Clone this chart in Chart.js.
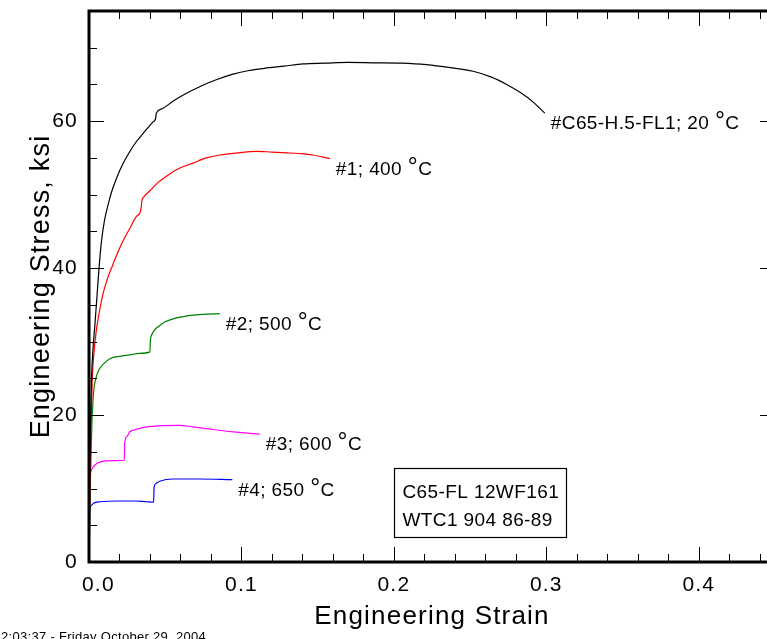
<!DOCTYPE html>
<html>
<head>
<meta charset="utf-8">
<script src="https://cdn.jsdelivr.net/npm/chart.js@4.4.1/dist/chart.umd.min.js"></script>
<style>
html,body{margin:0;padding:0;overflow:hidden;background:#fff;width:767px;height:639px}
#wrap{position:relative;width:800px;height:639px}
canvas{display:block}
</style>
</head>
<body>
<div id="wrap"><canvas id="c" width="800" height="639"></canvas></div>
<script>
// ---------- data ----------
const xTickValues = [0, 0.1, 0.2, 0.3, 0.4];
const xTickLabels = ['0.0', '0.1', '0.2', '0.3', '0.4'];
const yTickValues = [0, 20, 40, 60];
const yTickLabels = ['0', '20', '40', '60'];
const xMinorTicks = [0.02,0.04,0.06,0.08,0.12,0.14,0.16,0.18,0.22,0.24,0.26,0.28,0.32,0.34,0.36,0.38,0.42,0.44];
const yMinorTicks = [5,10,15,25,30,35,45,50,55,65,70];

const xTitle = 'Engineering Strain';
const yTitle = 'Engineering Stress, ksi';

const seriesLabels = ['#C65-H.5-FL1; 20 °C', '#1; 400 °C', '#2; 500 °C', '#3; 600 °C', '#4; 650 °C'];
const seriesColors = ['#000000', '#ff0000', '#008000', '#ff00ff', '#0000ff'];

const strain20 = [0,0.0004,0.0009,0.0016,0.0026,0.0037,0.0050,0.0065,0.0081,0.0100,0.0125,0.0147,0.0180,0.0220,0.0260,0.0310,0.0354,0.0390,0.0420,0.0436,0.0442,0.0480,0.0550,0.0630,0.0726,0.0830,0.0945,0.1050,0.1150,0.1280,0.1404,0.1550,0.1700,0.1864,0.2050,0.2214,0.2370,0.2520,0.2640,0.2740,0.2830,0.2914,0.2990];
const stress20 = [0,10,18,24.7,29.0,31.8,35.5,39.8,43.5,46.3,48.6,50.3,52.2,54.1,55.6,57.2,58.3,59.2,59.9,60.3,61.1,61.7,62.7,63.7,64.7,65.6,66.4,66.9,67.2,67.5,67.8,67.9,68.0,67.95,67.9,67.7,67.3,66.8,66.0,65.0,63.9,62.6,61.1];

const strain400 = [0,0.0005,0.0010,0.0016,0.0022,0.0035,0.0048,0.0070,0.0092,0.0120,0.0157,0.0190,0.0223,0.0270,0.0310,0.0340,0.0347,0.0360,0.0398,0.0450,0.0508,0.0573,0.0682,0.0770,0.0858,0.0980,0.1098,0.1200,0.1295,0.1380,0.1470,0.1580];
const stress400 = [0,8,15,21,25.2,29.0,31.5,34.3,36.5,38.5,40.5,42.2,43.7,45.5,47.0,47.9,49.2,49.7,50.5,51.6,52.5,53.4,54.3,55.0,55.4,55.7,55.9,55.8,55.7,55.6,55.4,54.9];

const strain500 = [0,0.0008,0.0015,0.0020,0.0031,0.0045,0.0064,0.0092,0.0140,0.0200,0.0267,0.0330,0.0400,0.0402,0.0409,0.0430,0.0464,0.0500,0.0551,0.0620,0.0682,0.0770,0.0858];
const stress500 = [0,10,16,19.3,23.3,25.0,26.1,26.9,27.7,28.0,28.2,28.4,28.6,30.0,30.8,31.6,32.2,32.7,33.1,33.4,33.6,33.75,33.8];

const strain600 = [0,0.0003,0.0005,0.0010,0.0026,0.0050,0.0070,0.0157,0.0232,0.0234,0.0250,0.0267,0.0300,0.0377,0.0480,0.0595,0.0680,0.0770,0.0945,0.1040,0.1120];
const stress600 = [0,6,11.1,12.2,12.9,13.4,13.6,13.8,13.85,16.2,17.1,17.7,18.0,18.4,18.55,18.6,18.4,18.15,17.7,17.55,17.4];

const strain650 = [0,0.0003,0.0005,0.0015,0.0030,0.0070,0.0201,0.0300,0.0377,0.0424,0.0427,0.0440,0.0464,0.0551,0.0726,0.0940];
const stress650 = [0,4,7.1,7.7,8.0,8.2,8.3,8.3,8.2,8.15,10.2,10.7,11.0,11.3,11.3,11.2];

const boxLines = ['C65-FL 12WF161', 'WTC1 904 86-89'];
const timestamp = '2:03:37 - Friday October 29, 2004';

// ---------- layout / style ----------
const FONT = '"Liberation Sans", Arial, Helvetica, sans-serif';
const boxRange = {x0: 0.2, x1: 0.313, yTop: 12.8, yBottom: 3.4};
const labelOffset = {dx: 6, dy: 16};

const strains = [strain20, strain400, strain500, strain600, strain650];
const stresses = [stress20, stress400, stress500, stress600, stress650];

const datasets = strains.map((xs, k) => ({
  label: seriesLabels[k],
  data: xs.map((x, i) => ({x: x, y: stresses[k][i]})),
  borderColor: seriesColors[k],
  backgroundColor: seriesColors[k],
  borderWidth: 1.2,
  pointRadius: 0,
  showLine: true,
  cubicInterpolationMode: 'monotone',
  fill: false
}));

Chart.defaults.color = '#000';
Chart.defaults.font.family = FONT;

function drawDegText(ctx, text, x, y, size) {
  const parts = text.split('°');
  ctx.font = size + 'px ' + FONT;
  ctx.fillText(parts[0], x, y);
  x += ctx.measureText(parts[0]).width;
  if (parts.length > 1) {
    ctx.font = Math.round(size * 1.3) + 'px ' + FONT;
    ctx.fillText('°', x, y);
    x += ctx.measureText('°').width;
    ctx.font = size + 'px ' + FONT;
    ctx.fillText(parts[1], x, y);
  }
}

const framePlugin = {
  id: 'frame',
  beforeLayout(chart) { chart.ctx.letterSpacing = '1.2px'; },
  beforeDraw(chart) { chart.ctx.letterSpacing = '1.2px'; },
  afterDatasetsDraw(chart) {
    const ctx = chart.ctx, a = chart.chartArea;
    const xs = chart.scales.x, ys = chart.scales.y;
    ctx.save();
    ctx.strokeStyle = '#000';
    ctx.lineWidth = 1;
    const MAJ = 15, MIN = 8;
    ctx.beginPath();
    const xt = (v, len) => {
      const p = Math.round(xs.getPixelForValue(v)) + 0.5;
      ctx.moveTo(p, a.bottom); ctx.lineTo(p, a.bottom - len);
      ctx.moveTo(p, a.top); ctx.lineTo(p, a.top + len);
    };
    const yt = (v, len) => {
      const p = Math.round(ys.getPixelForValue(v)) + 0.5;
      ctx.moveTo(a.left, p); ctx.lineTo(a.left + len, p);
      ctx.moveTo(a.right, p); ctx.lineTo(a.right - len, p);
    };
    xTickValues.filter(v => v > 0).forEach(v => xt(v, MAJ));
    xMinorTicks.forEach(v => xt(v, MIN));
    yTickValues.filter(v => v > 0).forEach(v => yt(v, MAJ));
    yMinorTicks.forEach(v => yt(v, MIN));
    ctx.stroke();
    ctx.lineWidth = 3;
    ctx.strokeRect(a.left, a.top, a.right - a.left, a.bottom - a.top);
    ctx.restore();
  },
  afterDraw(chart) {
    const ctx = chart.ctx;
    const xs = chart.scales.x, ys = chart.scales.y;
    ctx.save();
    ctx.letterSpacing = '0.4px';
    ctx.fillStyle = '#000';
    ctx.textBaseline = 'alphabetic';
    ctx.textAlign = 'left';
    strains.forEach((sx, k) => {
      const sy = stresses[k];
      const px = xs.getPixelForValue(sx[sx.length - 1]) + labelOffset.dx;
      const py = ys.getPixelForValue(sy[sy.length - 1]) + labelOffset.dy;
      drawDegText(ctx, seriesLabels[k], px, py, 19);
    });
    const bx0 = Math.round(xs.getPixelForValue(boxRange.x0)) + 0.5;
    const bx1 = Math.round(xs.getPixelForValue(boxRange.x1)) + 0.5;
    const by0 = Math.round(ys.getPixelForValue(boxRange.yTop)) + 0.5;
    const by1 = Math.round(ys.getPixelForValue(boxRange.yBottom)) + 0.5;
    ctx.strokeStyle = '#000';
    ctx.lineWidth = 1.2;
    ctx.strokeRect(bx0, by0, bx1 - bx0, by1 - by0);
    ctx.font = '19px ' + FONT;
    ctx.fillText(boxLines[0], bx0 + 8, by0 + 29);
    ctx.fillText(boxLines[1], bx0 + 8, by0 + 57);
    ctx.letterSpacing = '0.3px';
    ctx.font = '13px ' + FONT;
    ctx.fillText(timestamp, 1, 641);
    ctx.restore();
  }
};

new Chart(document.getElementById('c'), {
  type: 'scatter',
  data: {datasets: datasets},
  plugins: [framePlugin],
  options: {
    responsive: false,
    animation: false,
    events: [],
    layout: {padding: {left: 0, right: 25, top: 11, bottom: 0}},
    plugins: {legend: {display: false}, tooltip: {enabled: false}},
    scales: {
      x: {
        type: 'linear',
        min: 0,
        max: 0.45,
        grid: {display: false, drawTicks: false, tickLength: 0},
        border: {display: false},
        afterBuildTicks: s => { s.ticks = xTickValues.map(v => ({value: v})); },
        afterFit: s => { s.height = 77; s.paddingLeft = 0; s.paddingRight = 0; },
        ticks: {
          autoSkip: false, maxRotation: 0, minRotation: 0, padding: 11,
          color: '#000', font: {size: 21, family: FONT},
          callback: (v, i) => (i === 0 ? '\u2002 ' : '') + xTickLabels[i]
        },
        title: {display: true, text: xTitle, color: '#000', font: {size: 26, family: FONT}, padding: {top: 0, bottom: 7}}
      },
      y: {
        type: 'linear',
        min: 0,
        max: 75,
        grid: {display: false, drawTicks: false, tickLength: 0},
        border: {display: false},
        afterBuildTicks: s => { s.ticks = yTickValues.map(v => ({value: v})); },
        afterFit: s => { s.width = 89; s.paddingTop = 0; s.paddingBottom = 0; },
        ticks: {
          autoSkip: false, padding: 11,
          color: '#000', font: {size: 21, family: FONT},
          callback: (v, i) => yTickLabels[i]
        },
        title: {display: true, text: yTitle, color: '#000', font: {size: 27, family: FONT}, padding: {top: 25, bottom: 0}}
      }
    }
  }
});
</script>
</body>
</html>
